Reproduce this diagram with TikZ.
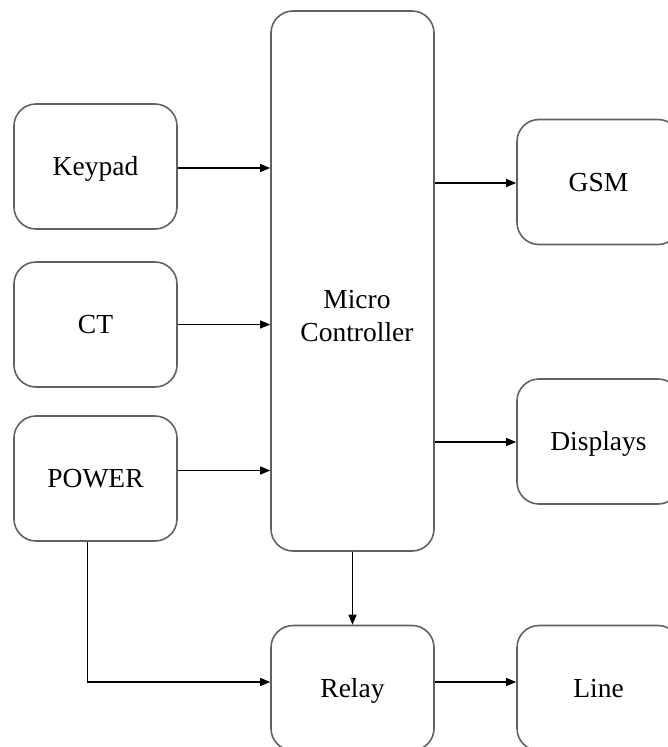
\documentclass[tikz,border=0pt]{standalone}
\usepackage{fontspec}
\setmainfont{Liberation Serif}
\usetikzlibrary{arrows.meta}
\begin{document}
\begin{tikzpicture}[x=1pt,y=-1pt,
  labelfont/.style={font=\fontsize{27.5}{33}\selectfont},
  block/.style={draw=black!62, line width=1.6pt, rounded corners=22pt,
    rectangle, minimum width=163pt, minimum height=125pt, inner sep=0pt,
    labelfont, text height=18pt, text depth=0pt},
  link/.style={draw=black, line width=1.2pt,
    -{Triangle[length=10pt,width=8pt]}}]
\useasboundingbox (0,0) rectangle (668,747);
% input blocks
\node[block] (kp) at (95.5,166.5) {Keypad};
\node[block] (ct) at (95.5,324.5) {CT};
\node[block] (pw) at (95.5,478.5) {POWER};
% controller
\node[block, minimum height=540pt] (mc) at (352.5,281) {};
\node[labelfont, align=center] (mctext) at (357,316) {Micro\\Controller};
% output blocks
\node[block] (gsm) at (598.5,182) {GSM};
\node[block] (disp) at (598.5,441.5) {Displays};
\node[block] (relay) at (352.5,688) {Relay};
\node[block] (line) at (598.5,688) {Line};
% connections
\coordinate (pwdown) at ([xshift=-8pt]pw.south);
\draw[link] ([yshift=-1.5pt]kp.east) -- ([yshift=-1.5pt]kp.east -| mc.west);
\draw[link] (ct.east) -- (ct.east -| mc.west);
\draw[link] ([yshift=8pt]pw.east) -- ([yshift=8pt]pw.east -| mc.west);
\draw[link] ([yshift=-1pt]gsm.west -| mc.east) -- ([yshift=-1pt]gsm.west);
\draw[link] ([yshift=-0.5pt]disp.west -| mc.east) -- ([yshift=-0.5pt]disp.west);
\draw[link] (mc.south) -- (relay.north);
\draw[link] (pwdown) |- ([yshift=6pt]relay.west);
\draw[link] ([yshift=6pt]relay.east) -- ([yshift=6pt]line.west);
\end{tikzpicture}
\end{document}
